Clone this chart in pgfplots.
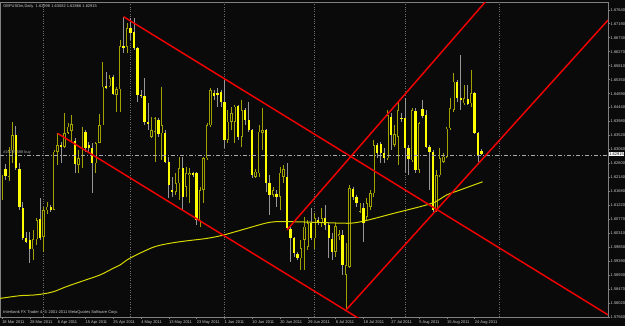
\documentclass[border=0pt]{standalone}
\usepackage{fontspec}
\setmainfont{Liberation Sans}
\usepackage{pgfplots}
\pgfplotsset{compat=1.18}
\usepackage{pgfplotstable}
\definecolor{bgc}{RGB}{10,10,10}
\definecolor{bullc}{RGB}{160,160,0}
\definecolor{bearc}{RGB}{255,255,0}
\definecolor{bearw}{RGB}{150,150,150}
\definecolor{mac}{RGB}{215,215,0}
\definecolor{redl}{RGB}{240,0,0}
\definecolor{framec}{RGB}{128,128,128}
\definecolor{labc}{RGB}{205,205,205}
\definecolor{gridc}{RGB}{110,110,110}
\newcommand\tf{\fontsize{3}{3.6}\selectfont}

\pgfplotstableread{
i O H L C
0 1.6146 1.6222 1.6140 1.6217
1 1.6241 1.6258 1.6206 1.6219
2 1.6217 1.6315 1.6204 1.6304
3 1.6304 1.6397 1.6261 1.6354
4 1.6354 1.6383 1.6239 1.6244
5 1.6241 1.6261 1.6107 1.6118
6 1.6115 1.6135 1.6009 1.6014
7 1.6014 1.6036 1.5998 1.6003
8 1.6009 1.6036 1.5932 1.5978
9 1.5978 1.6042 1.5943 1.6011
10 1.6011 1.6080 1.5992 1.6074
11 1.6078 1.6146 1.6009 1.6016
12 1.6020 1.6118 1.5970 1.6107
13 1.6107 1.6135 1.6094 1.6118
14 1.6118 1.6124 1.6102 1.6107
15 1.6109 1.6304 1.6107 1.6299
16 1.6299 1.6359 1.6255 1.6321
17 1.6321 1.6332 1.6261 1.6313
18 1.6315 1.6425 1.6310 1.6359
19 1.6361 1.6392 1.6357 1.6381
20 1.6368 1.6419 1.6326 1.6390
21 1.6335 1.6343 1.6228 1.6258
22 1.6255 1.6304 1.6228 1.6277
23 1.6271 1.6381 1.6244 1.6365
24 1.6365 1.6370 1.6299 1.6310
25 1.6321 1.6332 1.6299 1.6310
26 1.6310 1.6326 1.6164 1.6261
27 1.6261 1.6332 1.6230 1.6326
28 1.6328 1.6423 1.6326 1.6386
29 1.6386 1.6594 1.6386 1.6512
30 1.6514 1.6562 1.6506 1.6508
31 1.6514 1.6551 1.6510 1.6540
32 1.6545 1.6551 1.6484 1.6488
33 1.6485 1.6512 1.6430 1.6504
34 1.6504 1.6665 1.6430 1.6646
35 1.6646 1.6742 1.6622 1.6641
36 1.6644 1.6720 1.6622 1.6704
37 1.6704 1.6737 1.6666 1.6690
38 1.6693 1.6737 1.6633 1.6638
39 1.6638 1.6644 1.6463 1.6485
40 1.6485 1.6501 1.6474 1.6482
41 1.6482 1.6540 1.6386 1.6397
42 1.6397 1.6458 1.6370 1.6392
43 1.6348 1.6414 1.6343 1.6370
44 1.6365 1.6414 1.6266 1.6408
45 1.6403 1.6408 1.6348 1.6357
46 1.6359 1.6512 1.6271 1.6386
47 1.6359 1.6370 1.6261 1.6266
48 1.6266 1.6282 1.6146 1.6189
49 1.6173 1.6217 1.6151 1.6167
50 1.6167 1.6228 1.6157 1.6195
51 1.6195 1.6282 1.6140 1.6244
52 1.6244 1.6282 1.6107 1.6151
53 1.6184 1.6250 1.6151 1.6228
54 1.6222 1.6244 1.6129 1.6228
55 1.6228 1.6233 1.6217 1.6222
56 1.6228 1.6233 1.6058 1.6074
57 1.6074 1.6184 1.6053 1.6173
58 1.6173 1.6282 1.6129 1.6277
59 1.6277 1.6392 1.6271 1.6386
60 1.6386 1.6507 1.6381 1.6501
61 1.6490 1.6501 1.6468 1.6482
62 1.6493 1.6507 1.6447 1.6484
63 1.6496 1.6501 1.6447 1.6463
64 1.6463 1.6540 1.6310 1.6337
65 1.6337 1.6436 1.6326 1.6397
66 1.6397 1.6447 1.6370 1.6425
67 1.6397 1.6452 1.6326 1.6447
68 1.6449 1.6452 1.6337 1.6348
69 1.6348 1.6468 1.6315 1.6436
70 1.6436 1.6441 1.6386 1.6403
71 1.6403 1.6463 1.6365 1.6370
72 1.6370 1.6375 1.6211 1.6222
73 1.6217 1.6241 1.6211 1.6233
74 1.6228 1.6386 1.6217 1.6365
75 1.6361 1.6441 1.6304 1.6370
76 1.6370 1.6375 1.6167 1.6195
77 1.6197 1.6222 1.6091 1.6157
78 1.6157 1.6184 1.6151 1.6173
79 1.6160 1.6173 1.6118 1.6151
80 1.6151 1.6250 1.6107 1.6230
81 1.6217 1.6255 1.6195 1.6241
82 1.6217 1.6261 1.6042 1.6047
83 1.6045 1.6053 1.5938 1.6014
84 1.6016 1.6020 1.5954 1.5965
85 1.5962 1.5970 1.5943 1.5949
86 1.5949 1.6009 1.5910 1.5981
87 1.6009 1.6085 1.5910 1.6053
88 1.5987 1.6074 1.5976 1.6064
89 1.6064 1.6113 1.6009 1.6014
90 1.6014 1.6096 1.5981 1.6080
91 1.6074 1.6085 1.6058 1.6064
92 1.6064 1.6113 1.6053 1.6080
93 1.6080 1.6124 1.6042 1.6058
94 1.6058 1.6064 1.5949 1.6014
95 1.6013 1.6031 1.5943 1.5970
96 1.5970 1.6064 1.5954 1.6055
97 1.6022 1.6042 1.6009 1.6028
98 1.6025 1.6042 1.5894 1.5927
99 1.5894 1.5998 1.5779 1.5927
100 1.5921 1.6189 1.5916 1.6178
101 1.6178 1.6184 1.6140 1.6151
102 1.6151 1.6157 1.6118 1.6129
103 1.6102 1.6129 1.6096 1.6118
104 1.6113 1.6129 1.6003 1.6066
105 1.6085 1.6146 1.6074 1.6129
106 1.6118 1.6173 1.6107 1.6162
107 1.6162 1.6337 1.6151 1.6321
108 1.6321 1.6326 1.6277 1.6293
109 1.6324 1.6332 1.6261 1.6293
110 1.6296 1.6310 1.6261 1.6277
111 1.6277 1.6436 1.6271 1.6419
112 1.6414 1.6425 1.6304 1.6354
113 1.6321 1.6386 1.6315 1.6357
114 1.6348 1.6463 1.6255 1.6436
115 1.6410 1.6425 1.6397 1.6406
116 1.6408 1.6474 1.6228 1.6310
117 1.6310 1.6321 1.6222 1.6274
118 1.6271 1.6441 1.6266 1.6436
119 1.6433 1.6441 1.6228 1.6239
120 1.6239 1.6397 1.6228 1.6392
121 1.6439 1.6468 1.6408 1.6416
122 1.6418 1.6436 1.6310 1.6315
123 1.6315 1.6321 1.6173 1.6299
124 1.6299 1.6304 1.6102 1.6107
125 1.6109 1.6239 1.6102 1.6222
126 1.6222 1.6310 1.6217 1.6277
127 1.6266 1.6293 1.6261 1.6282
128 1.6282 1.6381 1.6277 1.6375
129 1.6375 1.6474 1.6370 1.6441
130 1.6436 1.6556 1.6430 1.6529
131 1.6529 1.6534 1.6463 1.6474
132 1.6474 1.6616 1.6436 1.6468
133 1.6458 1.6518 1.6452 1.6474
134 1.6471 1.6518 1.6452 1.6455
135 1.6458 1.6567 1.6447 1.6490
136 1.6490 1.6496 1.6357 1.6361
137 1.6361 1.6365 1.6266 1.6288
138 1.62998 1.63082 1.62866 1.62915
}\candles

\begin{document}
\begin{tikzpicture}
\path[use as bounding box] (0,0) rectangle (468.75pt,244.5pt);
\fill[bgc] (0,0) rectangle (468.75pt,244.5pt);
\begin{axis}[at={(0pt,6.75pt)}, anchor=south west, scale only axis,
  width=456pt, height=236.25pt,
  xmin=-0.5755, xmax=174.388, ymin=1.5756, ymax=1.67903,
  axis line style={draw=framec, line width=0.5pt},
  xtick={0,8,...,136},
  xticklabels={18 Mar 2011,28 Mar 2011,6 Apr 2011,15 Apr 2011,25 Apr 2011,4 May 2011,13 May 2011,23 May 2011,1 Jun 2011,10 Jun 2011,20 Jun 2011,29 Jun 2011,8 Jul 2011,18 Jul 2011,27 Jul 2011,5 Aug 2011,15 Aug 2011,24 Aug 2011},
  ytick={1.5756,1.5802,1.5847,1.5893,1.5939,1.5985,1.6031,1.6077,1.6122,1.6168,1.6214,1.6260,1.6306,1.6352,1.6398,1.6444,1.6489,1.6535,1.6581,1.6627,1.6673,1.6719,1.6764},
  yticklabels={1.57560,1.58020,1.58470,1.58930,1.59390,1.59850,1.60310,1.60770,1.61220,1.61680,1.62140,1.62600,1.63060,1.63520,1.63980,1.64440,1.64890,1.65350,1.65810,1.66270,1.66730,1.67190,1.67640},
  xtick pos=bottom, ytick pos=right, yticklabel pos=right,
  tick align=outside, major tick length=1.5pt,
  tick style={draw=framec, line width=0.4pt},
  xticklabel style={anchor=north west, inner sep=0pt, yshift=-0.8pt, font=\tf, text=labc},
  yticklabel style={anchor=west, inner sep=0pt, xshift=0.3pt, font=\tf, text=labc},
  extra x ticks={12,37,64,90,116,143}, extra x tick labels={},
  extra x tick style={grid=major, major tick length=0pt},
  major grid style={draw=gridc, line width=0.45pt, dash pattern=on 0.6pt off 1.2pt},
  clip mode=individual,
]
% bull wicks
\addplot[draw=none, forget plot,
  restrict expr to domain={\thisrow{C}-\thisrow{O}}{0:1},
  error bars/.cd, y dir=both, y explicit, error mark=none,
  error bar style={draw=bullc, line width=0.6pt, solid}]
  table[x=i, y expr={(\thisrow{H}+\thisrow{L})/2}, y error expr={(\thisrow{H}-\thisrow{L})/2}] {\candles};
% bear wicks
\addplot[draw=none, forget plot,
  restrict expr to domain={\thisrow{C}-\thisrow{O}}{-1:-0.000001},
  error bars/.cd, y dir=both, y explicit, error mark=none,
  error bar style={draw=bearw, line width=0.6pt, solid}]
  table[x=i, y expr={(\thisrow{H}+\thisrow{L})/2}, y error expr={(\thisrow{H}-\thisrow{L})/2}] {\candles};
% bull bodies outline
\addplot[draw=none, forget plot,
  restrict expr to domain={\thisrow{C}-\thisrow{O}}{0:1},
  error bars/.cd, y dir=both, y explicit, error mark=none,
  error bar style={draw=bullc, line width=1.8pt, solid}]
  table[x=i, y expr={(\thisrow{O}+\thisrow{C})/2}, y error expr={max(abs(\thisrow{C}-\thisrow{O})/2,0.00012)}] {\candles};
% bull bodies hollow
\addplot[draw=none, forget plot,
  restrict expr to domain={\thisrow{C}-\thisrow{O}}{0.00045:1},
  error bars/.cd, y dir=both, y explicit, error mark=none,
  error bar style={draw=bgc, line width=0.75pt, solid}]
  table[x=i, y expr={(\thisrow{O}+\thisrow{C})/2}, y error expr={abs(\thisrow{C}-\thisrow{O})/2-0.0002}] {\candles};
% bear bodies
\addplot[draw=none, forget plot,
  restrict expr to domain={\thisrow{C}-\thisrow{O}}{-1:-0.000001},
  error bars/.cd, y dir=both, y explicit, error mark=none,
  error bar style={draw=bearc, line width=1.7pt, solid}]
  table[x=i, y expr={(\thisrow{O}+\thisrow{C})/2}, y error expr={max(abs(\thisrow{C}-\thisrow{O})/2,0.00012)}] {\candles};
% moving average
\addplot[mac, line width=0.75pt, smooth, forget plot] coordinates {
(-0.58,1.5817) (5.18,1.5826) (9.0,1.5828) (11.9,1.5832) (14.8,1.5839) (18.6,1.5856) (23.4,1.5875) (28.2,1.5894) (32.0,1.5916) (34.0,1.5927) (36.8,1.5949) (43.5,1.5985) (48.3,1.5998) (53.1,1.6006) (58.9,1.6014) (63.7,1.6025) (69.9,1.6045) (77.1,1.6067) (82.9,1.6069) (92.5,1.6066) (100.1,1.6064) (104.5,1.6072) (112.6,1.6096) (123.6,1.6129) (128,1.6157) (131.8,1.6173) (138.3,1.6200)};
% order line
\addplot[draw={rgb,255:red,170;green,170;blue,170}, line width=0.5pt, dash pattern=on 3pt off 1.5pt on 0.75pt off 1.5pt, forget plot] coordinates {(-0.5755,1.6288) (174.388,1.6288)};
% trend channels
\addplot[redl, line width=1.1pt, forget plot] coordinates {(35,1.6742) (174.4,1.5763)};
\addplot[redl, line width=1.1pt, forget plot] coordinates {(16,1.6359) (103,1.5749)};
\addplot[redl, line width=1.1pt, forget plot] coordinates {(82,1.6042) (142,1.6829)};
\addplot[redl, line width=1.1pt, forget plot] coordinates {(99,1.5779) (174.4,1.6731)};
\end{axis}
\begin{scope}[x=0.75pt, y=-0.75pt, yshift=244.5pt]
\node[anchor=west, inner sep=0pt, text=labc, font=\tf] at (3,6) {GBPUSDm,Daily\ \ 1.62998 1.63082 1.62866 1.62915};
\node[anchor=west, inner sep=0pt, text=labc, font=\tf] at (3,312.5) {Interbank FX Trader 4, © 2001-2011 MetaQuotes Software Corp.};
\node[anchor=south west, inner sep=0pt, text=labc!80!black, font=\tf] at (3,155) {\#16289488 buy};
\node[anchor=west, fill=white, text=black, inner xsep=0.4pt, inner ysep=0.4pt, font=\tf] at (608.5,154.2) {1.62915};
\end{scope}
\end{tikzpicture}
\end{document}
